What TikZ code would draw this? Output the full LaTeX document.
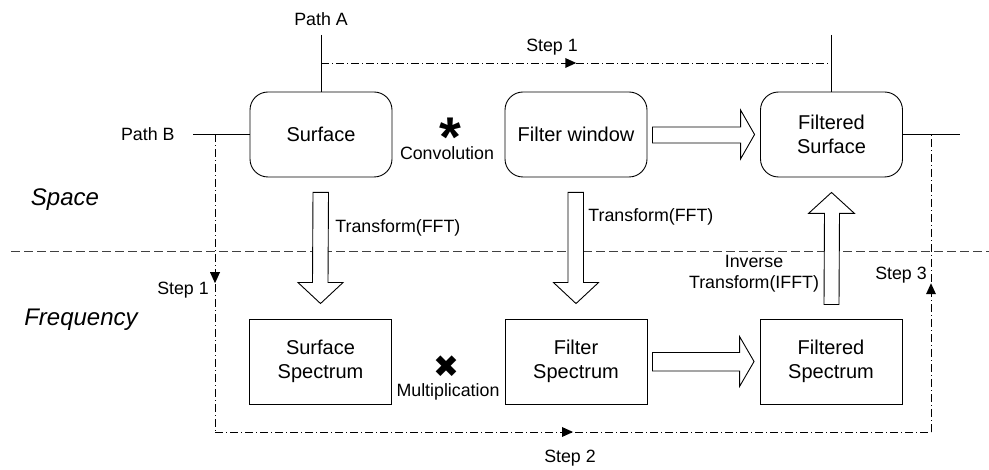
\documentclass[tikz,border=0pt]{standalone}
\usepackage{fontspec}
\setmainfont{Liberation Sans}
\newfontfamily\symfont{DejaVu Sans}
\usetikzlibrary{arrows.meta,decorations.markings,calc}
\begin{document}
\begin{tikzpicture}[x=1pt,y=-1pt,
  line width=0.9pt,
  rbox/.style={draw, rounded corners=18pt, minimum width=142pt, minimum height=85pt, align=center, font=\fontsize{20}{24}\selectfont, inner sep=0pt},
  sbox/.style={draw, minimum width=142pt, minimum height=85pt, align=center, font=\fontsize{20}{24}\selectfont, inner sep=0pt},
  lbl/.style={font=\fontsize{17.8}{21}\selectfont, inner sep=0pt},
  region/.style={font=\itshape\fontsize{24}{28}\selectfont, inner sep=0pt},
  stepline/.style={dash pattern=on 8pt off 3pt on 1pt off 3pt, postaction={decorate},
    decoration={markings, mark=at position 0.5 with {\fill[solid] (-11pt,-5pt) -- (0pt,0pt) -- (-11pt,5pt) -- cycle;}}},
  sepline/.style={dash pattern=on 9pt off 4pt, line width=0.8pt, draw=black!75},
  blockarrow/.style={draw, fill=white, line width=0.9pt, line join=miter},
]
\useasboundingbox (0,0) rectangle (989,470);

% boxes
\node[rbox] (surf) at (321,134.5) {Surface};
\node[rbox] (filt) at (576,134.5) {Filter window};
\node[rbox] (fsurf) at (831.5,134.5) {Filtered\\Surface};
\node[sbox] (sspec) at (320.5,361.5) {Surface\\Spectrum};
\node[sbox] (fspec) at (576,361.5) {Filter\\Spectrum};
\node[sbox] (fdspec) at (831,361.5) {Filtered\\Spectrum};

% path lines
\coordinate (pA) at (321,35);
\coordinate (pAR) at (831.5,35);
\coordinate (pB) at (193,134.5);
\coordinate (pBR) at (960,134.5);
\draw (pA) -- (surf.north);
\draw (pAR) -- (fsurf.north);
\draw (pB) -- (surf.west);
\draw (fsurf.east) -- (pBR);

% separator
\coordinate (sepL) at (11,251);
\coordinate (sepR) at (989,251);
\draw[sepline] (sepL) -- (sepR);

% step lines
\coordinate (s1a) at (321,63);
\coordinate (s1b) at (831.5,63);
\draw[stepline] (s1a) -- (s1b);
\coordinate (s2a) at (215,134.5);
\coordinate (s2b) at (215,432);
\coordinate (s2c) at (931,432);
\coordinate (s2d) at (931,134.5);
\draw[stepline] (s2a) -- (s2b);
\draw[stepline] (s2b) -- (s2c);
\draw[stepline] (s2c) -- (s2d);

% block arrows (down)
\draw[blockarrow] ($(surf.south)+(-8,15)$) -- ($(sspec.north)+(-8,-36)$) -- ($(sspec.north)+(-22.5,-36)$)
  -- ($(sspec.north)+(0,-15)$) -- ($(sspec.north)+(22.5,-36)$) -- ($(sspec.north)+(7.5,-36)$) -- ($(surf.south)+(7.5,15)$) -- cycle;
\draw[blockarrow] ($(filt.south)+(-8,15)$) -- ($(fspec.north)+(-8,-36)$) -- ($(fspec.north)+(-22.5,-36)$)
  -- ($(fspec.north)+(0,-15)$) -- ($(fspec.north)+(22.5,-36)$) -- ($(fspec.north)+(7.5,-36)$) -- ($(filt.south)+(7.5,15)$) -- cycle;
% up
\draw[blockarrow] ($(fdspec.north)+(-7,-14)$) -- ($(fsurf.south)+(-7,36)$) -- ($(fsurf.south)+(-23,36)$)
  -- ($(fsurf.south)+(0,15)$) -- ($(fsurf.south)+(23,36)$) -- ($(fsurf.south)+(8,36)$) -- ($(fdspec.north)+(8,-14)$) -- cycle;
% right
\draw[blockarrow] ($(filt.east)+(5,-7.5)$) -- ($(fsurf.west)+(-19.5,-7.5)$) -- ($(fsurf.west)+(-19.5,-24.5)$)
  -- ($(fsurf.west)+(-5.5,0)$) -- ($(fsurf.west)+(-19.5,24.5)$) -- ($(fsurf.west)+(-19.5,8.5)$) -- ($(filt.east)+(5,8.5)$) -- cycle;
\draw[blockarrow] ($(fspec.east)+(5,-9)$) -- ($(fdspec.west)+(-20,-9)$) -- ($(fdspec.west)+(-20,-25)$)
  -- ($(fdspec.west)+(-5.5,0)$) -- ($(fdspec.west)+(-20,25)$) -- ($(fdspec.west)+(-20,9.5)$) -- ($(fspec.east)+(5,9.5)$) -- cycle;

% labels
\node[lbl] (lpa) at (321,19) {Path A};
\node[lbl] (ls1t) at (552,47) {Step 1};
\node[lbl, anchor=east] (lpb) at (175,134.5) {Path B};
\node[region] (lsp) at (65,200) {Space};
\node[region] (lfr) at (81,320) {Frequency};
\node[lbl] (ls1l) at (183,290) {Step 1};
\node[lbl, anchor=west] (lt1) at (335,228) {Transform(FFT)};
\node[lbl, anchor=west] (lt2) at (588,217) {Transform(FFT)};
\node[lbl, align=center] (lit) at (754,273.5) {Inverse\\Transform(IFFT)};
\node[lbl] (ls3) at (901,275) {Step 3};
\node[lbl] (ls2) at (570,458) {Step 2};
\node[font=\bfseries\fontsize{56}{56}\selectfont, inner sep=0pt, anchor=base] (ast) at (450,157) {\smash{*}};
\node[lbl] (lconv) at (447,153) {Convolution};
\node[font=\symfont\fontsize{31}{31}\selectfont, inner sep=0pt] (crs) at (446,367) {✖};
\node[lbl] (lmul) at (448,392) {Multiplication};
\end{tikzpicture}
\end{document}
